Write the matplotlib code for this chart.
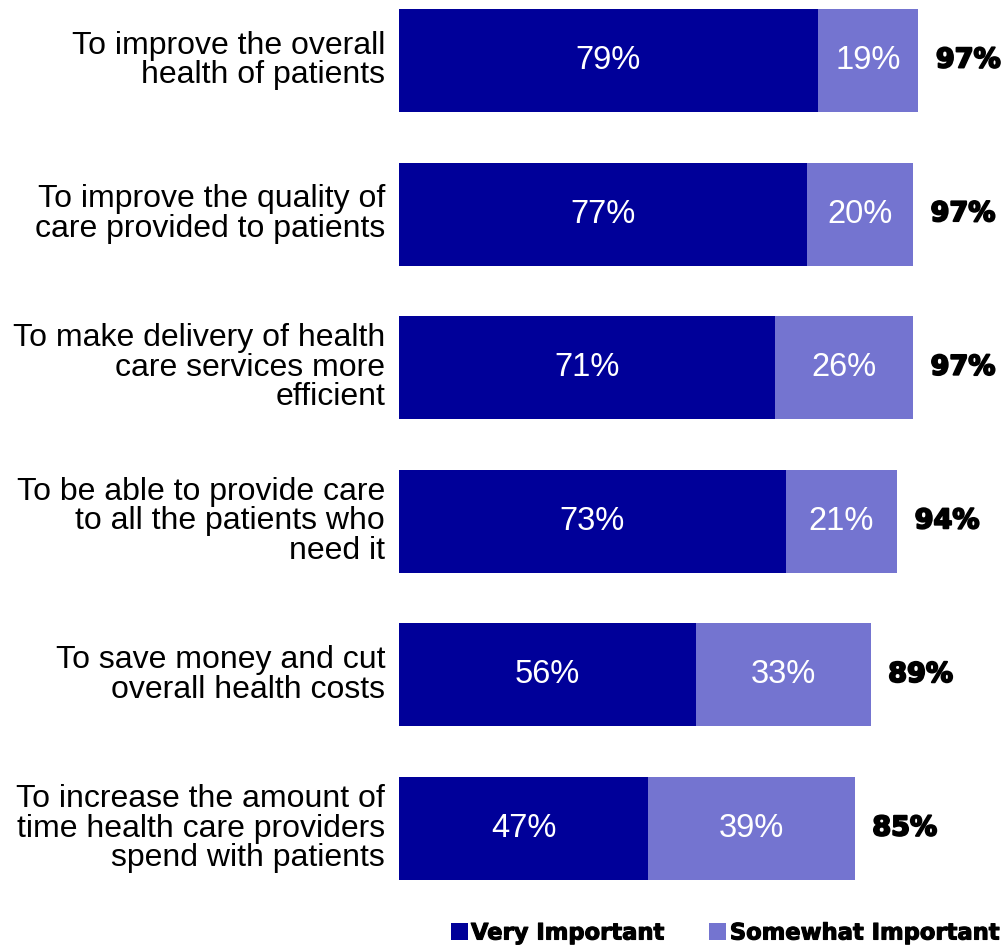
import matplotlib
matplotlib.use("Agg")
import matplotlib.pyplot as plt
import matplotlib.patheffects as pe
from matplotlib.patches import Patch

categories = [
    "To improve the overall\nhealth of patients",
    "To improve the quality of\ncare provided to patients",
    "To make delivery of health\ncare services more\nefficient",
    "To be able to provide care\nto all the patients who\nneed it",
    "To save money and cut\noverall health costs",
    "To increase the amount of\ntime health care providers\nspend with patients",
]
very_important = [79, 77, 71, 73, 56, 47]
somewhat_important = [19, 20, 26, 21, 33, 39]
totals = [97, 97, 97, 94, 89, 85]
series_names = ["Very Important", "Somewhat Important"]

dark = "#000099"
light = "#7474D0"

plt.rcParams['font.family'] = ['Liberation Sans', 'DejaVu Sans']

W, H = 1005, 948
fig = plt.figure(figsize=(W / 100, H / 100), dpi=100)
ax = fig.add_axes([399 / W, 1 - 900 / H, 606 / W, 900 / H])
ax.set_xlim(0, 606 / 5.3)
ax.set_ylim(5 + 71.5 / 153.6, -60.5 / 153.6)
ax.axis("off")

ypos = list(range(len(categories)))
bh = 0.67
ax.barh(ypos, very_important, height=bh, color=dark, edgecolor='none')
ax.barh(ypos, somewhat_important, left=very_important, height=bh, color=light, edgecolor='none')

for y, cat, v, s, t in zip(ypos, categories, very_important, somewhat_important, totals):
    ax.text(v / 2, y, f"{v}%", color="white", ha="center", va="center", fontsize=23.5)
    ax.text(v + s / 2, y, f"{s}%", color="white", ha="center", va="center", fontsize=23.5)
    ax.text(v + s + 3.3, y, f"{t}%", color="black", ha="left", va="center", fontsize=19.5,
            fontweight="bold", family="DejaVu Sans",
            path_effects=[pe.withStroke(linewidth=1.4, foreground="black")])
    ax.text(-14 / 5.3, y, cat, color="black", ha="right", va="center", fontsize=23,
            linespacing=0.97)

handles = [Patch(facecolor=dark, edgecolor='none'), Patch(facecolor=light, edgecolor='none')]
leg = fig.legend(handles, series_names, loc="center", bbox_to_anchor=(725 / W, 1 - 933 / H),
                 ncol=2, frameon=False, handlelength=0.75, handleheight=0.75,
                 handletextpad=0.15, columnspacing=2.0,
                 prop={'weight': 'bold', 'size': 16.3, 'family': 'DejaVu Sans'})
for txt in leg.get_texts():
    txt.set_path_effects([pe.withStroke(linewidth=0.8, foreground="black")])

fig.savefig("out.png", dpi=100)
